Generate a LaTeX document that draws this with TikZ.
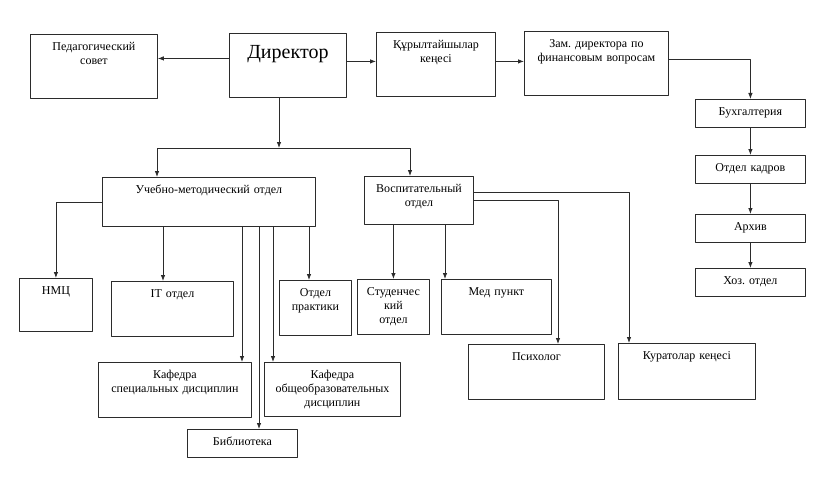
\documentclass[tikz,border=0pt]{standalone}
\usepackage{fontspec}
\setmainfont{Liberation Serif}
\usetikzlibrary{arrows.meta}
\usetikzlibrary{positioning}
\definecolor{chart-line}{HTML}{2B2B2B}
\frenchspacing
\tikzset{
  box/.style 2 args={draw=chart-line, line width=0.85pt, anchor=north west, inner sep=0pt,
    align=center, text width={#1*1pt}, text height=16pt, text depth={#2*1pt-16pt},
    font=\fontsize{12}{14}\selectfont},
  arr/.style={draw=chart-line, line width=0.8pt, -{Latex[length=6pt,width=4.5pt]}},
}
\begin{document}
\begin{tikzpicture}[x=1pt, y=-1pt, line cap=round, line join=round]
    % frame
    \useasboundingbox (0,0) rectangle (831,495);

    % top row
    \node[box={127}{64}] (ped) at (30,34) {Педагогический\\совет};
    \node[box={117}{64}, text height=25pt, text depth=39pt, font=\fontsize{20}{24}\selectfont] (dir) at (229,33) {Директор};
    \node[box={119}{64}] (kur) at (376,32) {Құрылтайшылар\\кеңесі};
    \node[box={144}{64}] (zam) at (524,31) {Зам. директора по\\финансовым вопросам};

    % finance column
    \node[box={110}{28}] (buh) at (695,99) {Бухгалтерия};
    \node[box={110}{28}] (kad) at (695,155) {Отдел кадров};
    \node[box={110}{28}] (arh) at (695,214) {Архив};
    \node[box={110}{28}] (hoz) at (695,268) {Хоз. отдел};

    % departments
    \node[box={213}{49}] (um) at (102,177) {Учебно-методический отдел};
    \node[box={109}{48}] (vosp) at (364,176) {Воспитательный\\отдел};

    % units
    \node[box={73}{53}] (nmc) at (19,278) {НМЦ};
    \node[box={122}{55}] (it) at (111,281) {IT отдел};
    \node[box={72}{55}] (prak) at (279,280) {Отдел\\практики};
    \node[box={153}{55}] (kafs) at (98,362) {Кафедра\\специальных дисциплин};
    \node[box={136}{54}] (kafo) at (264,362) {Кафедра\\общеобразовательных\\дисциплин};
    \node[box={110}{28}] (bib) at (187,429) {Библиотека};
    \node[box={72}{55}] (stud) at (357,279) {Студенчес\\кий\\отдел};
    \node[box={110}{55}] (med) at (441,279) {Мед пункт};
    \node[box={136}{55}] (psy) at (468,344) {Психолог};
    \node[box={137}{56}] (kurat) at (618,343) {Куратолар кеңесі};

    % director links
    \draw[arr] ([yshift=7pt]dir.west) -- ([yshift=7pt]dir.west -| ped.east);
    \draw[arr] ([yshift=4pt]dir.east) -- ([yshift=4pt]dir.east -| kur.west);
    \draw[arr] ([yshift=3pt]kur.east) -- ([yshift=3pt]kur.east -| zam.west);
    \coordinate (fork) at (279,148);
    \draw[arr] (dir.south -| fork) -- (fork);
    \draw[arr] (fork) -| (um.north -| 157,0);
    \draw[arr] (fork) -| (vosp.north -| 410,0);

    % finance links
    \draw[arr] ([yshift=4pt]zam.east) -| (buh.north);
    \draw[arr] (buh.south) -- (kad.north);
    \draw[arr] (kad.south) -- (arh.north);
    \draw[arr] (arh.south) -- (hoz.north);

    % teaching links
    \draw[arr] (um.west) -| (nmc.north);
    \foreach \x/\n in {163/it, 242/kafs, 259/bib, 273/kafo, 309/prak}
        \draw[arr] (um.south -| \x,0) -- (\n.north -| \x,0);

    % upbringing links
    \draw[arr] (vosp.south -| stud.north) -- (stud.north);
    \draw[arr] (vosp.south -| 445,0) -- (med.north -| 445,0);
    \draw[arr] (vosp.east) -| (psy.north -| 558,0);
    \draw[arr] ([yshift=8pt]vosp.east) -| (kurat.north -| 629,0);

\end{tikzpicture}
\end{document}
